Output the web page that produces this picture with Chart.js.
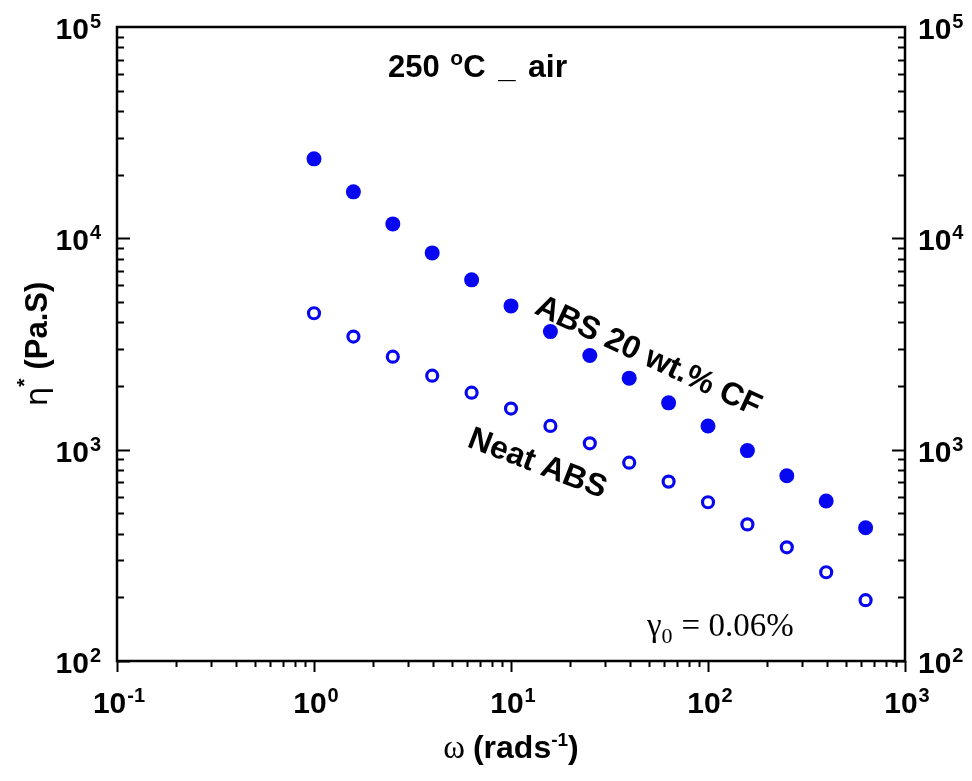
<!DOCTYPE html>
<html>
<head>
<meta charset="utf-8">
<script src="https://cdn.jsdelivr.net/npm/chart.js@4.4.1/dist/chart.umd.min.js"></script>
<style>
  html, body { margin: 0; padding: 0; background: #ffffff; }
  #wrap { width: 972px; height: 781px; position: relative; }
</style>
</head>
<body>
<div id="wrap"><canvas id="c" width="972" height="781"></canvas></div>
<script>
// Angular frequency (rad/s), five points per decade
const omega = [1, 1.585, 2.512, 3.981, 6.31, 10, 15.85, 25.12, 39.81, 63.1, 100, 158.5, 251.2, 398.1, 631];
// Complex viscosity (Pa.s)
const etaCF   = [23770, 16590, 11700, 8530, 6360, 4790, 3620, 2790, 2180, 1665, 1295, 990, 753, 572, 427];
const etaNeat = [4420, 3430, 2755, 2240, 1860, 1565, 1295, 1072, 868, 706, 564, 443, 345, 263, 194];

// Decade exponents used for axis labels
const xTickExps = [-1, 0, 1, 2, 3];
const yTickExps = [2, 3, 4, 5];

const seriesNames = ['ABS 20 wt.% CF', 'Neat ABS'];
const blue = '#0707f0';

const BOLD = '"Liberation Sans", Arial, sans-serif';
const SERIF = '"Liberation Serif", "Times New Roman", serif';

// Draws a run of text pieces left to right; each piece may carry its own font and vertical shift
function runWidth(ctx, parts) {
  let w = 0;
  for (const p of parts) { ctx.font = p.font; w += ctx.measureText(p.t).width + (p.gap || 0); }
  return w;
}
function drawRun(ctx, parts, x, y, align) {
  const w = runWidth(ctx, parts);
  let cx = align === 'center' ? x - w / 2 : align === 'right' ? x - w : x;
  ctx.textAlign = 'left';
  ctx.textBaseline = 'alphabetic';
  for (const p of parts) {
    ctx.font = p.font;
    ctx.fillText(p.t, cx, y + (p.dy || 0));
    cx += ctx.measureText(p.t).width + (p.gap || 0);
  }
}
function powerLabel(exp) {
  return [
    { t: '10', font: 'bold 30px ' + BOLD, gap: 1 },
    { t: String(exp), font: 'bold 20px ' + BOLD, dy: -11 }
  ];
}

const frameAndText = {
  id: 'frameAndText',
  afterDatasetsDraw(chart) {
    const ctx = chart.ctx;
    const xs = chart.scales.x, ys = chart.scales.y;
    const a = chart.chartArea;
    ctx.save();
    ctx.strokeStyle = '#000';
    ctx.fillStyle = '#000';
    ctx.lineWidth = 2.5;
    ctx.lineCap = 'butt';
    ctx.strokeRect(a.left, a.top, a.right - a.left, a.bottom - a.top);

    // y ticks: inward on both left and right frame edges
    ctx.lineWidth = 2;
    for (let e = yTickExps[0]; e < yTickExps[yTickExps.length - 1]; e++) {
      for (let k = 1; k <= 9; k++) {
        const py = Math.round(ys.getPixelForValue(k * Math.pow(10, e))) + 0.5;
        const len = k === 1 ? 13 : 7;
        ctx.beginPath();
        ctx.moveTo(a.left, py); ctx.lineTo(a.left + len, py);
        ctx.moveTo(a.right, py); ctx.lineTo(a.right - len, py);
        ctx.stroke();
      }
    }
    // x ticks: outward below the bottom edge
    for (let e = xTickExps[0]; e <= xTickExps[xTickExps.length - 1]; e++) {
      for (let k = 1; k <= 9; k++) {
        const v = k * Math.pow(10, e);
        if (v > Math.pow(10, xTickExps[xTickExps.length - 1])) break;
        const px = Math.round(xs.getPixelForValue(v)) + 0.5;
        const len = k === 1 ? 11 : 6;
        ctx.beginPath();
        ctx.moveTo(px, a.bottom); ctx.lineTo(px, a.bottom + len);
        ctx.stroke();
      }
    }

    // tick labels
    for (const e of yTickExps) {
      const py = ys.getPixelForValue(Math.pow(10, e));
      drawRun(ctx, powerLabel(e), a.left - 16, py + 12, 'right');
      drawRun(ctx, powerLabel(e), a.right + 13, py + 12, 'left');
    }
    for (const e of xTickExps) {
      const px = xs.getPixelForValue(Math.pow(10, e));
      drawRun(ctx, powerLabel(e), px + 2, a.bottom + 52, 'center');
    }

    // axis titles
    drawRun(ctx, [
      { t: 'ω', font: '33px ' + SERIF, gap: 8 },
      { t: '(rads', font: 'bold 32px ' + BOLD },
      { t: '-1', font: 'bold 19px ' + BOLD, dy: -12 },
      { t: ')', font: 'bold 32px ' + BOLD }
    ], xs.getPixelForValue(10), 758, 'center');

    ctx.save();
    ctx.translate(47, (a.top + a.bottom) / 2);
    ctx.rotate(-Math.PI / 2);
    drawRun(ctx, [
      { t: 'η', font: '31px "DejaVu Sans", sans-serif' },
      { t: '*', font: 'bold 21px ' + BOLD, dy: -16, gap: 9 },
      { t: '(Pa.S)', font: 'bold 31px ' + BOLD }
    ], 0, 0, 'center');
    ctx.restore();

    // condition heading
    drawRun(ctx, [
      { t: '250 ', font: 'bold 31px ' + BOLD, gap: 2 },
      { t: 'o', font: 'bold 21px ' + BOLD, dy: -12 },
      { t: 'C ', font: 'bold 31px ' + BOLD, gap: 4 },
      { t: '_ ', font: 'bold 31px ' + BOLD, gap: 4 },
      { t: 'air', font: 'bold 32px ' + BOLD }
    ], 388, 77, 'left');

    // series labels along the data
    ctx.save();
    ctx.translate(649, 355);
    ctx.rotate(25 * Math.PI / 180);
    drawRun(ctx, [{ t: seriesNames[0], font: 'bold 32px ' + BOLD }], 0, 11, 'center');
    ctx.restore();

    ctx.save();
    ctx.translate(538, 462);
    ctx.rotate(21 * Math.PI / 180);
    drawRun(ctx, [{ t: seriesNames[1], font: 'bold 32px ' + BOLD }], 0, 11, 'center');
    ctx.restore();

    // strain amplitude
    drawRun(ctx, [
      { t: 'γ', font: '33px ' + SERIF },
      { t: '0', font: '22px ' + SERIF, dy: 7, gap: 9 },
      { t: '= 0.06%', font: '33px ' + SERIF }
    ], 647, 636, 'left');

    ctx.restore();
  }
};

new Chart(document.getElementById('c'), {
  type: 'scatter',
  data: {
    datasets: [
      {
        label: seriesNames[0],
        data: omega.map((x, i) => ({ x, y: etaCF[i] })),
        pointRadius: 7.5,
        pointBorderWidth: 0,
        backgroundColor: blue,
        borderColor: blue
      },
      {
        label: seriesNames[1],
        data: omega.map((x, i) => ({ x, y: etaNeat[i] })),
        pointRadius: 5.5,
        pointBorderWidth: 3.2,
        backgroundColor: '#ffffff',
        borderColor: blue
      }
    ]
  },
  options: {
    responsive: false,
    animation: false,
    devicePixelRatio: 1,
    layout: { padding: { left: 117, right: 67, top: 27, bottom: 120 } },
    plugins: { legend: { display: false }, tooltip: { enabled: false } },
    scales: {
      x: { type: 'logarithmic', min: 0.1, max: 1000, display: false },
      y: { type: 'logarithmic', min: 100, max: 100000, display: false }
    }
  },
  plugins: [frameAndText]
});
</script>
</body>
</html>
